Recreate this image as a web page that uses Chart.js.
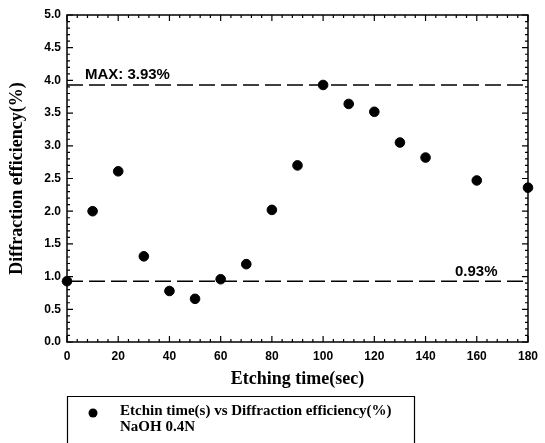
<!DOCTYPE html>
<html><head><meta charset="utf-8">
<script src="https://cdn.jsdelivr.net/npm/chart.js@4/dist/chart.umd.min.js"></script>
<style>html,body{margin:0;padding:0;background:#fff}#wrap{width:545px;height:443px;position:relative}</style>
</head><body><div id="wrap"><canvas id="c" width="545" height="443"></canvas></div>
<script>
const etchTimes = [0, 10, 20, 30, 40, 50, 60, 70, 80, 90, 100, 110, 120, 130, 140, 160, 180];
const efficiency = [0.93, 2.0, 2.61, 1.31, 0.78, 0.66, 0.96, 1.19, 2.02, 2.70, 3.93, 3.64, 3.52, 3.05, 2.82, 2.47, 2.36];
const maxLevel = 3.93;
const minLevel = 0.93;
const xRange = [0, 180];
const yRange = [0, 5];
const seriesLabel = 'Etchin time(s) vs Diffraction efficiency(%)';
const seriesLabel2 = 'NaOH 0.4N';
const xTitle = 'Etching time(sec)';
const yTitle = 'Diffraction efficiency(%)';
const maxText = 'MAX: 3.93%';
const minText = '0.93%';

const pts = etchTimes.map((t, i) => ({x: t, y: efficiency[i]}));
const sans = '"Liberation Sans", Arial, sans-serif';
const serifB = '"Liberation Serif", "Times New Roman", serif';

const decor = {
  id: 'decor',
  afterDatasetsDraw(chart) {
    const ctx = chart.ctx, xs = chart.scales.x, ys = chart.scales.y, a = chart.chartArea;
    ctx.save();
    ctx.strokeStyle = '#000'; ctx.lineWidth = 1.6; ctx.setLineDash([16, 6]);
    [maxLevel, minLevel].forEach(v => {
      const y = ys.getPixelForValue(v);
      ctx.beginPath(); ctx.moveTo(a.left, y); ctx.lineTo(a.right, y); ctx.stroke();
    });
    ctx.setLineDash([]);
    ctx.lineWidth = 1.5;
    ctx.strokeRect(a.left, a.top, a.right - a.left, a.bottom - a.top);
    ctx.lineWidth = 1.2;
    ctx.beginPath();
    for (let v = xRange[0]; v <= xRange[1] + 1e-9; v += 4) {
      const x = xs.getPixelForValue(v);
      const major = Math.abs(v % 20) < 1e-9;
      const L = major ? 6 : 3;
      ctx.moveTo(x, a.bottom); ctx.lineTo(x, a.bottom - L);
      ctx.moveTo(x, a.top); ctx.lineTo(x, a.top + L);
    }
    for (let i = 0; i <= 50; i++) {
      const y = ys.getPixelForValue(i / 10);
      const L = (i % 5 === 0) ? 6 : 3;
      ctx.moveTo(a.left, y); ctx.lineTo(a.left + L, y);
      ctx.moveTo(a.right, y); ctx.lineTo(a.right - L, y);
    }
    ctx.stroke();
    ctx.fillStyle = '#000';
    ctx.font = 'bold 15px ' + sans;
    ctx.textBaseline = 'middle'; ctx.textAlign = 'left';
    ctx.fillText(maxText, xs.getPixelForValue(7), ys.getPixelForValue(maxLevel) - 10);
    ctx.fillText(minText, xs.getPixelForValue(151.5), ys.getPixelForValue(minLevel) - 9);
    ctx.lineWidth = 1.2;
    ctx.beginPath();
    ctx.moveTo(67.5, 450); ctx.lineTo(67.5, 396.5); ctx.lineTo(414.5, 396.5); ctx.lineTo(414.5, 450);
    ctx.stroke();
    ctx.beginPath(); ctx.arc(93, 413, 4.5, 0, Math.PI * 2); ctx.fill();
    ctx.font = 'bold 15px ' + serifB;
    ctx.textBaseline = 'middle';
    ctx.fillText(seriesLabel, 120, 411);
    ctx.fillText(seriesLabel2, 120, 427);
    ctx.restore();
  }
};

new Chart(document.getElementById('c'), {
  type: 'scatter',
  data: {datasets: [{
    label: seriesLabel,
    data: pts,
    backgroundColor: '#000', borderColor: '#000',
    pointRadius: 4.8, pointHoverRadius: 4.8,
    clip: false
  }]},
  options: {
    responsive: false, animation: false,
    devicePixelRatio: 1,
    layout: {padding: {left: 0, top: 15, right: 13, bottom: 0}},
    plugins: {legend: {display: false}, tooltip: {enabled: false}},
    scales: {
      x: {
        type: 'linear', min: xRange[0], max: xRange[1],
        afterFit: s => { s.height = 101; },
        grid: {display: false, drawTicks: false},
        border: {display: false},
        ticks: {stepSize: 20, color: '#000', font: {family: sans, size: 12, weight: 'bold'}, padding: 7, maxRotation: 0},
        title: {display: true, text: xTitle, color: '#000', font: {family: serifB, size: 18, weight: 'bold'}, padding: {top: 0, bottom: 53}}
      },
      y: {
        type: 'linear', min: yRange[0], max: yRange[1],
        afterFit: s => { s.width = 67; },
        grid: {display: false, drawTicks: false},
        border: {display: false},
        ticks: {stepSize: 0.5, color: '#000', callback: v => v.toFixed(1), font: {family: sans, size: 12, weight: 'bold'}, padding: 6},
        title: {display: true, text: yTitle, color: '#000', font: {family: serifB, size: 18, weight: 'bold'}, padding: {top: 7, bottom: 0}}
      }
    }
  },
  plugins: [decor]
});
</script></body></html>
